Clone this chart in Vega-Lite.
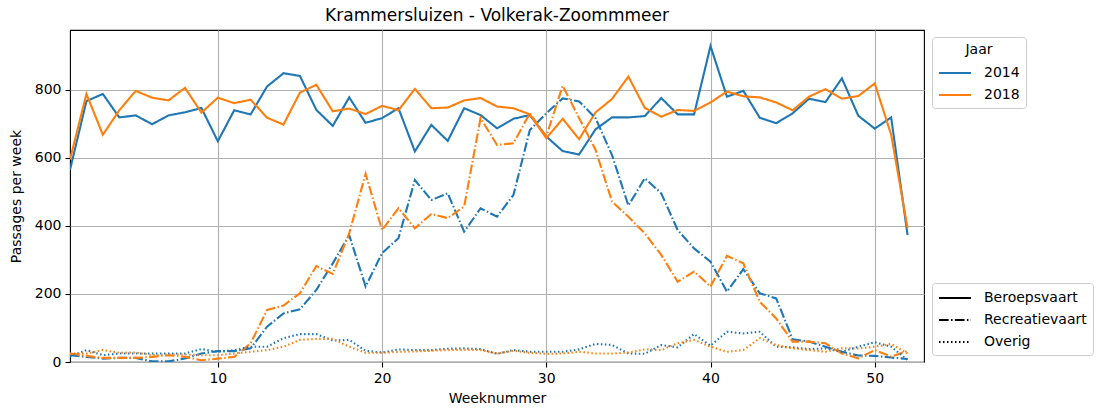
{
  "$schema": "https://vega.github.io/schema/vega-lite/v6.json",
  "autosize": "none",
  "width": 854,
  "height": 332,
  "padding": {"left": 70, "top": 30, "right": 176, "bottom": 52},
  "background": "white",
  "title": {"text": "Krammersluizen - Volkerak-Zoommmeer", "fontSize": 17, "fontWeight": "normal", "font": "DejaVu Sans", "color": "black", "offset": 5, "anchor": "middle"},
  "config": {
    "view": {"stroke": "black", "strokeWidth": 1.1},
    "axis": {
      "labelFont": "DejaVu Sans", "labelFontSize": 14, "labelColor": "black",
      "titleFont": "DejaVu Sans", "titleFontSize": 14, "titleFontWeight": "normal", "titleColor": "black",
      "tickColor": "black", "tickSize": 5, "tickWidth": 1.1, "labelPadding": 4,
      "domain": false, "gridColor": "#b0b0b0", "gridWidth": 1.1, "gridOpacity": 1
    },
    "legend": {
      "labelFont": "DejaVu Sans", "labelFontSize": 14, "labelColor": "black",
      "titleFont": "DejaVu Sans", "titleFontSize": 14, "titleFontWeight": "normal", "titleColor": "black",
      "symbolType": "M-1,0H3", "symbolSize": 256, "symbolStrokeWidth": 2, "labelOffset": 28,
      "strokeColor": "#cccccc", "fillColor": "white", "cornerRadius": 3, "padding": 6, "rowPadding": 6
    }
  },
  "data": {"values": [
    {"Week":1,"Jaar":"2014","Soort":"Beroepsvaart","Passages":565},{"Week":2,"Jaar":"2014","Soort":"Beroepsvaart","Passages":767},{"Week":3,"Jaar":"2014","Soort":"Beroepsvaart","Passages":788},{"Week":4,"Jaar":"2014","Soort":"Beroepsvaart","Passages":719},{"Week":5,"Jaar":"2014","Soort":"Beroepsvaart","Passages":725},{"Week":6,"Jaar":"2014","Soort":"Beroepsvaart","Passages":699},{"Week":7,"Jaar":"2014","Soort":"Beroepsvaart","Passages":725},{"Week":8,"Jaar":"2014","Soort":"Beroepsvaart","Passages":734},{"Week":9,"Jaar":"2014","Soort":"Beroepsvaart","Passages":747},{"Week":10,"Jaar":"2014","Soort":"Beroepsvaart","Passages":649},{"Week":11,"Jaar":"2014","Soort":"Beroepsvaart","Passages":740},{"Week":12,"Jaar":"2014","Soort":"Beroepsvaart","Passages":728},{"Week":13,"Jaar":"2014","Soort":"Beroepsvaart","Passages":810},{"Week":14,"Jaar":"2014","Soort":"Beroepsvaart","Passages":849},{"Week":15,"Jaar":"2014","Soort":"Beroepsvaart","Passages":841},{"Week":16,"Jaar":"2014","Soort":"Beroepsvaart","Passages":741},{"Week":17,"Jaar":"2014","Soort":"Beroepsvaart","Passages":694},{"Week":18,"Jaar":"2014","Soort":"Beroepsvaart","Passages":778},{"Week":19,"Jaar":"2014","Soort":"Beroepsvaart","Passages":703},{"Week":20,"Jaar":"2014","Soort":"Beroepsvaart","Passages":717},{"Week":21,"Jaar":"2014","Soort":"Beroepsvaart","Passages":746},{"Week":22,"Jaar":"2014","Soort":"Beroepsvaart","Passages":619},{"Week":23,"Jaar":"2014","Soort":"Beroepsvaart","Passages":697},{"Week":24,"Jaar":"2014","Soort":"Beroepsvaart","Passages":650},{"Week":25,"Jaar":"2014","Soort":"Beroepsvaart","Passages":746},{"Week":26,"Jaar":"2014","Soort":"Beroepsvaart","Passages":726},{"Week":27,"Jaar":"2014","Soort":"Beroepsvaart","Passages":687},{"Week":28,"Jaar":"2014","Soort":"Beroepsvaart","Passages":715},{"Week":29,"Jaar":"2014","Soort":"Beroepsvaart","Passages":726},{"Week":30,"Jaar":"2014","Soort":"Beroepsvaart","Passages":663},{"Week":31,"Jaar":"2014","Soort":"Beroepsvaart","Passages":620},{"Week":32,"Jaar":"2014","Soort":"Beroepsvaart","Passages":610},{"Week":33,"Jaar":"2014","Soort":"Beroepsvaart","Passages":684},{"Week":34,"Jaar":"2014","Soort":"Beroepsvaart","Passages":719},{"Week":35,"Jaar":"2014","Soort":"Beroepsvaart","Passages":719},{"Week":36,"Jaar":"2014","Soort":"Beroepsvaart","Passages":723},{"Week":37,"Jaar":"2014","Soort":"Beroepsvaart","Passages":776},{"Week":38,"Jaar":"2014","Soort":"Beroepsvaart","Passages":728},{"Week":39,"Jaar":"2014","Soort":"Beroepsvaart","Passages":728},{"Week":40,"Jaar":"2014","Soort":"Beroepsvaart","Passages":929},{"Week":41,"Jaar":"2014","Soort":"Beroepsvaart","Passages":780},{"Week":42,"Jaar":"2014","Soort":"Beroepsvaart","Passages":797},{"Week":43,"Jaar":"2014","Soort":"Beroepsvaart","Passages":718},{"Week":44,"Jaar":"2014","Soort":"Beroepsvaart","Passages":702},{"Week":45,"Jaar":"2014","Soort":"Beroepsvaart","Passages":731},{"Week":46,"Jaar":"2014","Soort":"Beroepsvaart","Passages":774},{"Week":47,"Jaar":"2014","Soort":"Beroepsvaart","Passages":764},{"Week":48,"Jaar":"2014","Soort":"Beroepsvaart","Passages":834},{"Week":49,"Jaar":"2014","Soort":"Beroepsvaart","Passages":724},{"Week":50,"Jaar":"2014","Soort":"Beroepsvaart","Passages":686},{"Week":51,"Jaar":"2014","Soort":"Beroepsvaart","Passages":719},{"Week":52,"Jaar":"2014","Soort":"Beroepsvaart","Passages":373},
    {"Week":1,"Jaar":"2018","Soort":"Beroepsvaart","Passages":595},{"Week":2,"Jaar":"2018","Soort":"Beroepsvaart","Passages":788},{"Week":3,"Jaar":"2018","Soort":"Beroepsvaart","Passages":668},{"Week":4,"Jaar":"2018","Soort":"Beroepsvaart","Passages":740},{"Week":5,"Jaar":"2018","Soort":"Beroepsvaart","Passages":797},{"Week":6,"Jaar":"2018","Soort":"Beroepsvaart","Passages":777},{"Week":7,"Jaar":"2018","Soort":"Beroepsvaart","Passages":769},{"Week":8,"Jaar":"2018","Soort":"Beroepsvaart","Passages":806},{"Week":9,"Jaar":"2018","Soort":"Beroepsvaart","Passages":733},{"Week":10,"Jaar":"2018","Soort":"Beroepsvaart","Passages":777},{"Week":11,"Jaar":"2018","Soort":"Beroepsvaart","Passages":761},{"Week":12,"Jaar":"2018","Soort":"Beroepsvaart","Passages":771},{"Week":13,"Jaar":"2018","Soort":"Beroepsvaart","Passages":718},{"Week":14,"Jaar":"2018","Soort":"Beroepsvaart","Passages":698},{"Week":15,"Jaar":"2018","Soort":"Beroepsvaart","Passages":792},{"Week":16,"Jaar":"2018","Soort":"Beroepsvaart","Passages":815},{"Week":17,"Jaar":"2018","Soort":"Beroepsvaart","Passages":737},{"Week":18,"Jaar":"2018","Soort":"Beroepsvaart","Passages":745},{"Week":19,"Jaar":"2018","Soort":"Beroepsvaart","Passages":729},{"Week":20,"Jaar":"2018","Soort":"Beroepsvaart","Passages":753},{"Week":21,"Jaar":"2018","Soort":"Beroepsvaart","Passages":740},{"Week":22,"Jaar":"2018","Soort":"Beroepsvaart","Passages":803},{"Week":23,"Jaar":"2018","Soort":"Beroepsvaart","Passages":746},{"Week":24,"Jaar":"2018","Soort":"Beroepsvaart","Passages":748},{"Week":25,"Jaar":"2018","Soort":"Beroepsvaart","Passages":769},{"Week":26,"Jaar":"2018","Soort":"Beroepsvaart","Passages":776},{"Week":27,"Jaar":"2018","Soort":"Beroepsvaart","Passages":751},{"Week":28,"Jaar":"2018","Soort":"Beroepsvaart","Passages":746},{"Week":29,"Jaar":"2018","Soort":"Beroepsvaart","Passages":728},{"Week":30,"Jaar":"2018","Soort":"Beroepsvaart","Passages":658},{"Week":31,"Jaar":"2018","Soort":"Beroepsvaart","Passages":715},{"Week":32,"Jaar":"2018","Soort":"Beroepsvaart","Passages":655},{"Week":33,"Jaar":"2018","Soort":"Beroepsvaart","Passages":734},{"Week":34,"Jaar":"2018","Soort":"Beroepsvaart","Passages":773},{"Week":35,"Jaar":"2018","Soort":"Beroepsvaart","Passages":839},{"Week":36,"Jaar":"2018","Soort":"Beroepsvaart","Passages":747},{"Week":37,"Jaar":"2018","Soort":"Beroepsvaart","Passages":721},{"Week":38,"Jaar":"2018","Soort":"Beroepsvaart","Passages":741},{"Week":39,"Jaar":"2018","Soort":"Beroepsvaart","Passages":738},{"Week":40,"Jaar":"2018","Soort":"Beroepsvaart","Passages":763},{"Week":41,"Jaar":"2018","Soort":"Beroepsvaart","Passages":795},{"Week":42,"Jaar":"2018","Soort":"Beroepsvaart","Passages":781},{"Week":43,"Jaar":"2018","Soort":"Beroepsvaart","Passages":778},{"Week":44,"Jaar":"2018","Soort":"Beroepsvaart","Passages":763},{"Week":45,"Jaar":"2018","Soort":"Beroepsvaart","Passages":740},{"Week":46,"Jaar":"2018","Soort":"Beroepsvaart","Passages":780},{"Week":47,"Jaar":"2018","Soort":"Beroepsvaart","Passages":802},{"Week":48,"Jaar":"2018","Soort":"Beroepsvaart","Passages":774},{"Week":49,"Jaar":"2018","Soort":"Beroepsvaart","Passages":782},{"Week":50,"Jaar":"2018","Soort":"Beroepsvaart","Passages":819},{"Week":51,"Jaar":"2018","Soort":"Beroepsvaart","Passages":668},{"Week":52,"Jaar":"2018","Soort":"Beroepsvaart","Passages":394},
    {"Week":1,"Jaar":"2014","Soort":"Recreatievaart","Passages":20},{"Week":2,"Jaar":"2014","Soort":"Recreatievaart","Passages":15},{"Week":3,"Jaar":"2014","Soort":"Recreatievaart","Passages":10},{"Week":4,"Jaar":"2014","Soort":"Recreatievaart","Passages":12},{"Week":5,"Jaar":"2014","Soort":"Recreatievaart","Passages":12},{"Week":6,"Jaar":"2014","Soort":"Recreatievaart","Passages":2},{"Week":7,"Jaar":"2014","Soort":"Recreatievaart","Passages":2},{"Week":8,"Jaar":"2014","Soort":"Recreatievaart","Passages":10},{"Week":9,"Jaar":"2014","Soort":"Recreatievaart","Passages":25},{"Week":10,"Jaar":"2014","Soort":"Recreatievaart","Passages":32},{"Week":11,"Jaar":"2014","Soort":"Recreatievaart","Passages":32},{"Week":12,"Jaar":"2014","Soort":"Recreatievaart","Passages":40},{"Week":13,"Jaar":"2014","Soort":"Recreatievaart","Passages":104},{"Week":14,"Jaar":"2014","Soort":"Recreatievaart","Passages":143},{"Week":15,"Jaar":"2014","Soort":"Recreatievaart","Passages":155},{"Week":16,"Jaar":"2014","Soort":"Recreatievaart","Passages":212},{"Week":17,"Jaar":"2014","Soort":"Recreatievaart","Passages":290},{"Week":18,"Jaar":"2014","Soort":"Recreatievaart","Passages":373},{"Week":19,"Jaar":"2014","Soort":"Recreatievaart","Passages":222},{"Week":20,"Jaar":"2014","Soort":"Recreatievaart","Passages":320},{"Week":21,"Jaar":"2014","Soort":"Recreatievaart","Passages":364},{"Week":22,"Jaar":"2014","Soort":"Recreatievaart","Passages":535},{"Week":23,"Jaar":"2014","Soort":"Recreatievaart","Passages":476},{"Week":24,"Jaar":"2014","Soort":"Recreatievaart","Passages":496},{"Week":25,"Jaar":"2014","Soort":"Recreatievaart","Passages":383},{"Week":26,"Jaar":"2014","Soort":"Recreatievaart","Passages":452},{"Week":27,"Jaar":"2014","Soort":"Recreatievaart","Passages":427},{"Week":28,"Jaar":"2014","Soort":"Recreatievaart","Passages":491},{"Week":29,"Jaar":"2014","Soort":"Recreatievaart","Passages":682},{"Week":30,"Jaar":"2014","Soort":"Recreatievaart","Passages":731},{"Week":31,"Jaar":"2014","Soort":"Recreatievaart","Passages":775},{"Week":32,"Jaar":"2014","Soort":"Recreatievaart","Passages":766},{"Week":33,"Jaar":"2014","Soort":"Recreatievaart","Passages":717},{"Week":34,"Jaar":"2014","Soort":"Recreatievaart","Passages":609},{"Week":35,"Jaar":"2014","Soort":"Recreatievaart","Passages":460},{"Week":36,"Jaar":"2014","Soort":"Recreatievaart","Passages":540},{"Week":37,"Jaar":"2014","Soort":"Recreatievaart","Passages":496},{"Week":38,"Jaar":"2014","Soort":"Recreatievaart","Passages":388},{"Week":39,"Jaar":"2014","Soort":"Recreatievaart","Passages":334},{"Week":40,"Jaar":"2014","Soort":"Recreatievaart","Passages":295},{"Week":41,"Jaar":"2014","Soort":"Recreatievaart","Passages":207},{"Week":42,"Jaar":"2014","Soort":"Recreatievaart","Passages":273},{"Week":43,"Jaar":"2014","Soort":"Recreatievaart","Passages":202},{"Week":44,"Jaar":"2014","Soort":"Recreatievaart","Passages":187},{"Week":45,"Jaar":"2014","Soort":"Recreatievaart","Passages":67},{"Week":46,"Jaar":"2014","Soort":"Recreatievaart","Passages":60},{"Week":47,"Jaar":"2014","Soort":"Recreatievaart","Passages":45},{"Week":48,"Jaar":"2014","Soort":"Recreatievaart","Passages":30},{"Week":49,"Jaar":"2014","Soort":"Recreatievaart","Passages":19},{"Week":50,"Jaar":"2014","Soort":"Recreatievaart","Passages":18},{"Week":51,"Jaar":"2014","Soort":"Recreatievaart","Passages":13},{"Week":52,"Jaar":"2014","Soort":"Recreatievaart","Passages":9},
    {"Week":1,"Jaar":"2018","Soort":"Recreatievaart","Passages":25},{"Week":2,"Jaar":"2018","Soort":"Recreatievaart","Passages":18},{"Week":3,"Jaar":"2018","Soort":"Recreatievaart","Passages":12},{"Week":4,"Jaar":"2018","Soort":"Recreatievaart","Passages":12},{"Week":5,"Jaar":"2018","Soort":"Recreatievaart","Passages":12},{"Week":6,"Jaar":"2018","Soort":"Recreatievaart","Passages":15},{"Week":7,"Jaar":"2018","Soort":"Recreatievaart","Passages":20},{"Week":8,"Jaar":"2018","Soort":"Recreatievaart","Passages":15},{"Week":9,"Jaar":"2018","Soort":"Recreatievaart","Passages":5},{"Week":10,"Jaar":"2018","Soort":"Recreatievaart","Passages":10},{"Week":11,"Jaar":"2018","Soort":"Recreatievaart","Passages":15},{"Week":12,"Jaar":"2018","Soort":"Recreatievaart","Passages":55},{"Week":13,"Jaar":"2018","Soort":"Recreatievaart","Passages":153},{"Week":14,"Jaar":"2018","Soort":"Recreatievaart","Passages":166},{"Week":15,"Jaar":"2018","Soort":"Recreatievaart","Passages":202},{"Week":16,"Jaar":"2018","Soort":"Recreatievaart","Passages":282},{"Week":17,"Jaar":"2018","Soort":"Recreatievaart","Passages":259},{"Week":18,"Jaar":"2018","Soort":"Recreatievaart","Passages":378},{"Week":19,"Jaar":"2018","Soort":"Recreatievaart","Passages":553},{"Week":20,"Jaar":"2018","Soort":"Recreatievaart","Passages":388},{"Week":21,"Jaar":"2018","Soort":"Recreatievaart","Passages":452},{"Week":22,"Jaar":"2018","Soort":"Recreatievaart","Passages":393},{"Week":23,"Jaar":"2018","Soort":"Recreatievaart","Passages":435},{"Week":24,"Jaar":"2018","Soort":"Recreatievaart","Passages":423},{"Week":25,"Jaar":"2018","Soort":"Recreatievaart","Passages":457},{"Week":26,"Jaar":"2018","Soort":"Recreatievaart","Passages":717},{"Week":27,"Jaar":"2018","Soort":"Recreatievaart","Passages":638},{"Week":28,"Jaar":"2018","Soort":"Recreatievaart","Passages":643},{"Week":29,"Jaar":"2018","Soort":"Recreatievaart","Passages":731},{"Week":30,"Jaar":"2018","Soort":"Recreatievaart","Passages":663},{"Week":31,"Jaar":"2018","Soort":"Recreatievaart","Passages":812},{"Week":32,"Jaar":"2018","Soort":"Recreatievaart","Passages":717},{"Week":33,"Jaar":"2018","Soort":"Recreatievaart","Passages":624},{"Week":34,"Jaar":"2018","Soort":"Recreatievaart","Passages":472},{"Week":35,"Jaar":"2018","Soort":"Recreatievaart","Passages":427},{"Week":36,"Jaar":"2018","Soort":"Recreatievaart","Passages":378},{"Week":37,"Jaar":"2018","Soort":"Recreatievaart","Passages":315},{"Week":38,"Jaar":"2018","Soort":"Recreatievaart","Passages":236},{"Week":39,"Jaar":"2018","Soort":"Recreatievaart","Passages":266},{"Week":40,"Jaar":"2018","Soort":"Recreatievaart","Passages":222},{"Week":41,"Jaar":"2018","Soort":"Recreatievaart","Passages":312},{"Week":42,"Jaar":"2018","Soort":"Recreatievaart","Passages":290},{"Week":43,"Jaar":"2018","Soort":"Recreatievaart","Passages":177},{"Week":44,"Jaar":"2018","Soort":"Recreatievaart","Passages":128},{"Week":45,"Jaar":"2018","Soort":"Recreatievaart","Passages":60},{"Week":46,"Jaar":"2018","Soort":"Recreatievaart","Passages":60},{"Week":47,"Jaar":"2018","Soort":"Recreatievaart","Passages":55},{"Week":48,"Jaar":"2018","Soort":"Recreatievaart","Passages":25},{"Week":49,"Jaar":"2018","Soort":"Recreatievaart","Passages":11},{"Week":50,"Jaar":"2018","Soort":"Recreatievaart","Passages":35},{"Week":51,"Jaar":"2018","Soort":"Recreatievaart","Passages":16},{"Week":52,"Jaar":"2018","Soort":"Recreatievaart","Passages":33},
    {"Week":1,"Jaar":"2014","Soort":"Overig","Passages":16},{"Week":2,"Jaar":"2014","Soort":"Overig","Passages":35},{"Week":3,"Jaar":"2014","Soort":"Overig","Passages":20},{"Week":4,"Jaar":"2014","Soort":"Overig","Passages":25},{"Week":5,"Jaar":"2014","Soort":"Overig","Passages":25},{"Week":6,"Jaar":"2014","Soort":"Overig","Passages":25},{"Week":7,"Jaar":"2014","Soort":"Overig","Passages":25},{"Week":8,"Jaar":"2014","Soort":"Overig","Passages":25},{"Week":9,"Jaar":"2014","Soort":"Overig","Passages":38},{"Week":10,"Jaar":"2014","Soort":"Overig","Passages":30},{"Week":11,"Jaar":"2014","Soort":"Overig","Passages":35},{"Week":12,"Jaar":"2014","Soort":"Overig","Passages":45},{"Week":13,"Jaar":"2014","Soort":"Overig","Passages":45},{"Week":14,"Jaar":"2014","Soort":"Overig","Passages":70},{"Week":15,"Jaar":"2014","Soort":"Overig","Passages":82},{"Week":16,"Jaar":"2014","Soort":"Overig","Passages":82},{"Week":17,"Jaar":"2014","Soort":"Overig","Passages":63},{"Week":18,"Jaar":"2014","Soort":"Overig","Passages":65},{"Week":19,"Jaar":"2014","Soort":"Overig","Passages":33},{"Week":20,"Jaar":"2014","Soort":"Overig","Passages":28},{"Week":21,"Jaar":"2014","Soort":"Overig","Passages":37},{"Week":22,"Jaar":"2014","Soort":"Overig","Passages":35},{"Week":23,"Jaar":"2014","Soort":"Overig","Passages":35},{"Week":24,"Jaar":"2014","Soort":"Overig","Passages":39},{"Week":25,"Jaar":"2014","Soort":"Overig","Passages":40},{"Week":26,"Jaar":"2014","Soort":"Overig","Passages":38},{"Week":27,"Jaar":"2014","Soort":"Overig","Passages":24},{"Week":28,"Jaar":"2014","Soort":"Overig","Passages":35},{"Week":29,"Jaar":"2014","Soort":"Overig","Passages":30},{"Week":30,"Jaar":"2014","Soort":"Overig","Passages":30},{"Week":31,"Jaar":"2014","Soort":"Overig","Passages":30},{"Week":32,"Jaar":"2014","Soort":"Overig","Passages":37},{"Week":33,"Jaar":"2014","Soort":"Overig","Passages":53},{"Week":34,"Jaar":"2014","Soort":"Overig","Passages":50},{"Week":35,"Jaar":"2014","Soort":"Overig","Passages":25},{"Week":36,"Jaar":"2014","Soort":"Overig","Passages":24},{"Week":37,"Jaar":"2014","Soort":"Overig","Passages":50},{"Week":38,"Jaar":"2014","Soort":"Overig","Passages":43},{"Week":39,"Jaar":"2014","Soort":"Overig","Passages":82},{"Week":40,"Jaar":"2014","Soort":"Overig","Passages":48},{"Week":41,"Jaar":"2014","Soort":"Overig","Passages":89},{"Week":42,"Jaar":"2014","Soort":"Overig","Passages":84},{"Week":43,"Jaar":"2014","Soort":"Overig","Passages":89},{"Week":44,"Jaar":"2014","Soort":"Overig","Passages":45},{"Week":45,"Jaar":"2014","Soort":"Overig","Passages":43},{"Week":46,"Jaar":"2014","Soort":"Overig","Passages":38},{"Week":47,"Jaar":"2014","Soort":"Overig","Passages":40},{"Week":48,"Jaar":"2014","Soort":"Overig","Passages":30},{"Week":49,"Jaar":"2014","Soort":"Overig","Passages":45},{"Week":50,"Jaar":"2014","Soort":"Overig","Passages":58},{"Week":51,"Jaar":"2014","Soort":"Overig","Passages":45},{"Week":52,"Jaar":"2014","Soort":"Overig","Passages":6},
    {"Week":1,"Jaar":"2018","Soort":"Overig","Passages":25},{"Week":2,"Jaar":"2018","Soort":"Overig","Passages":25},{"Week":3,"Jaar":"2018","Soort":"Overig","Passages":35},{"Week":4,"Jaar":"2018","Soort":"Overig","Passages":27},{"Week":5,"Jaar":"2018","Soort":"Overig","Passages":28},{"Week":6,"Jaar":"2018","Soort":"Overig","Passages":20},{"Week":7,"Jaar":"2018","Soort":"Overig","Passages":22},{"Week":8,"Jaar":"2018","Soort":"Overig","Passages":22},{"Week":9,"Jaar":"2018","Soort":"Overig","Passages":20},{"Week":10,"Jaar":"2018","Soort":"Overig","Passages":20},{"Week":11,"Jaar":"2018","Soort":"Overig","Passages":25},{"Week":12,"Jaar":"2018","Soort":"Overig","Passages":30},{"Week":13,"Jaar":"2018","Soort":"Overig","Passages":35},{"Week":14,"Jaar":"2018","Soort":"Overig","Passages":45},{"Week":15,"Jaar":"2018","Soort":"Overig","Passages":65},{"Week":16,"Jaar":"2018","Soort":"Overig","Passages":68},{"Week":17,"Jaar":"2018","Soort":"Overig","Passages":68},{"Week":18,"Jaar":"2018","Soort":"Overig","Passages":45},{"Week":19,"Jaar":"2018","Soort":"Overig","Passages":27},{"Week":20,"Jaar":"2018","Soort":"Overig","Passages":27},{"Week":21,"Jaar":"2018","Soort":"Overig","Passages":30},{"Week":22,"Jaar":"2018","Soort":"Overig","Passages":31},{"Week":23,"Jaar":"2018","Soort":"Overig","Passages":33},{"Week":24,"Jaar":"2018","Soort":"Overig","Passages":35},{"Week":25,"Jaar":"2018","Soort":"Overig","Passages":36},{"Week":26,"Jaar":"2018","Soort":"Overig","Passages":35},{"Week":27,"Jaar":"2018","Soort":"Overig","Passages":25},{"Week":28,"Jaar":"2018","Soort":"Overig","Passages":33},{"Week":29,"Jaar":"2018","Soort":"Overig","Passages":27},{"Week":30,"Jaar":"2018","Soort":"Overig","Passages":24},{"Week":31,"Jaar":"2018","Soort":"Overig","Passages":25},{"Week":32,"Jaar":"2018","Soort":"Overig","Passages":30},{"Week":33,"Jaar":"2018","Soort":"Overig","Passages":25},{"Week":34,"Jaar":"2018","Soort":"Overig","Passages":25},{"Week":35,"Jaar":"2018","Soort":"Overig","Passages":28},{"Week":36,"Jaar":"2018","Soort":"Overig","Passages":37},{"Week":37,"Jaar":"2018","Soort":"Overig","Passages":35},{"Week":38,"Jaar":"2018","Soort":"Overig","Passages":55},{"Week":39,"Jaar":"2018","Soort":"Overig","Passages":65},{"Week":40,"Jaar":"2018","Soort":"Overig","Passages":45},{"Week":41,"Jaar":"2018","Soort":"Overig","Passages":30},{"Week":42,"Jaar":"2018","Soort":"Overig","Passages":35},{"Week":43,"Jaar":"2018","Soort":"Overig","Passages":70},{"Week":44,"Jaar":"2018","Soort":"Overig","Passages":50},{"Week":45,"Jaar":"2018","Soort":"Overig","Passages":40},{"Week":46,"Jaar":"2018","Soort":"Overig","Passages":35},{"Week":47,"Jaar":"2018","Soort":"Overig","Passages":30},{"Week":48,"Jaar":"2018","Soort":"Overig","Passages":40},{"Week":49,"Jaar":"2018","Soort":"Overig","Passages":40},{"Week":50,"Jaar":"2018","Soort":"Overig","Passages":45},{"Week":51,"Jaar":"2018","Soort":"Overig","Passages":53},{"Week":52,"Jaar":"2018","Soort":"Overig","Passages":25}
  ]},
  "mark": {"type": "line", "strokeWidth": 2.1, "clip": true},
  "encoding": {
    "x": {"field": "Week", "type": "quantitative", "scale": {"domain": [1, 53], "nice": false, "zero": false},
          "axis": {"values": [10, 20, 30, 40, 50], "title": "Weeknummer", "titlePadding": 6}},
    "y": {"field": "Passages", "type": "quantitative", "scale": {"domain": [0, 976], "nice": false},
          "axis": {"values": [0, 200, 400, 600, 800], "title": "Passages per week", "titlePadding": 11}},
    "color": {"field": "Jaar", "type": "nominal", "scale": {"domain": ["2014", "2018"], "range": ["#1f77b4", "#ff7f0e"]},
              "legend": {"title": "Jaar", "orient": "none", "legendX": 862, "legendY": 7, "titleAnchor": "middle", "titlePadding": 7}},
    "strokeDash": {"field": "Soort", "type": "nominal",
                   "scale": {"domain": ["Beroepsvaart", "Recreatievaart", "Overig"], "range": [[1, 0], [9.6, 2.4, 1.5, 2.4], [1.5, 2.5]]},
                   "legend": {"title": null, "orient": "none", "legendX": 862, "legendY": 253, "symbolStrokeColor": "black"}}
  }
}
